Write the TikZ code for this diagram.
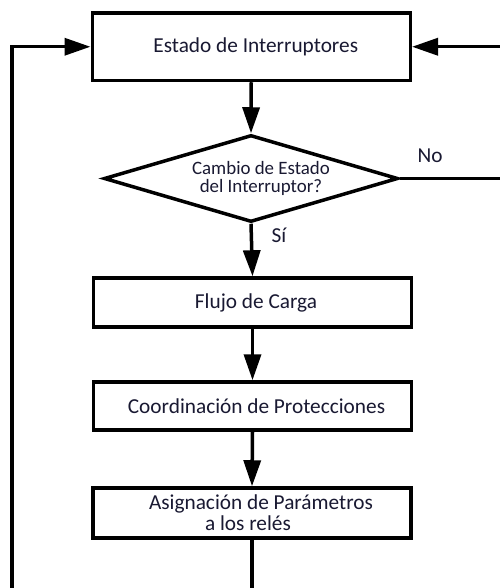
\documentclass[tikz,border=0pt]{standalone}
\usepackage{fontspec}
\setmainfont{Carlito}
\usetikzlibrary{arrows.meta,shapes.geometric}
\definecolor{txt}{RGB}{25,25,50}
\begin{document}
\begin{tikzpicture}[x=1pt,y=-1pt,
  box/.style={draw=black,line width=3.5pt,inner sep=0pt,minimum width=318pt,font=\fontsize{21.3}{21}\selectfont,text=txt,align=center},
  dec/.style={draw=black,diamond,aspect=3.38,line width=3.5pt,inner sep=0pt,minimum width=294pt,minimum height=87pt},
  dectext/.style={font=\fontsize{18.9}{18.5}\selectfont,text=txt,align=center,inner sep=0pt},
  conn/.style={line width=3.5pt},
  arr/.style={conn,-{Triangle[length=26pt,width=17pt]}},
  lbl/.style={font=\fontsize{21.3}{22}\selectfont,text=txt,inner sep=0pt}]
\fill[white] (0,0) rectangle (499,588);
\useasboundingbox (0,0) rectangle (499,588);
\node[box,minimum height=67.5pt] (b1) at (251.25,46.75) {\hspace*{9pt}Estado de Interruptores};
\node[dec,label={[dectext,xshift=10pt]center:{Cambio de Estado\\del Interruptor?}}] (d) at (251,178.5) {};
\node[box,minimum height=49pt] (b2) at (252.5,302.5) {\hspace*{7pt}Flujo de Carga};
\node[box,minimum height=48pt] (b3) at (252.5,406) {\hspace*{8pt}Coordinación de Protecciones};
\node[box,minimum height=50pt] (b4) at (252,513) {\hspace*{18pt}Asignación de Parámetros\\\hspace*{-8pt}a los relés};
\node[lbl] (no) at (430,156) {No};
\node[lbl] (si) at (279,235) {Sí};
\coordinate (lb) at (12,592);
\coordinate (cb) at (252,592);
\coordinate (rb) at (502,178.5);
\coordinate (rt) at (502,46.75);
\draw[arr] (b1.south) -- (d.north);
\draw[arr] (d.south) -- (b2.north);
\draw[arr] (b2.south) -- (b3.north);
\draw[arr] (b3.south) -- (b4.north);
\draw[conn] (b4.south) -- (cb);
\draw[arr] (lb) |- (b1.west);
\draw[conn] (d.east) -- (rb);
\draw[arr] (rt) -- (b1.east);
\end{tikzpicture}
\end{document}
